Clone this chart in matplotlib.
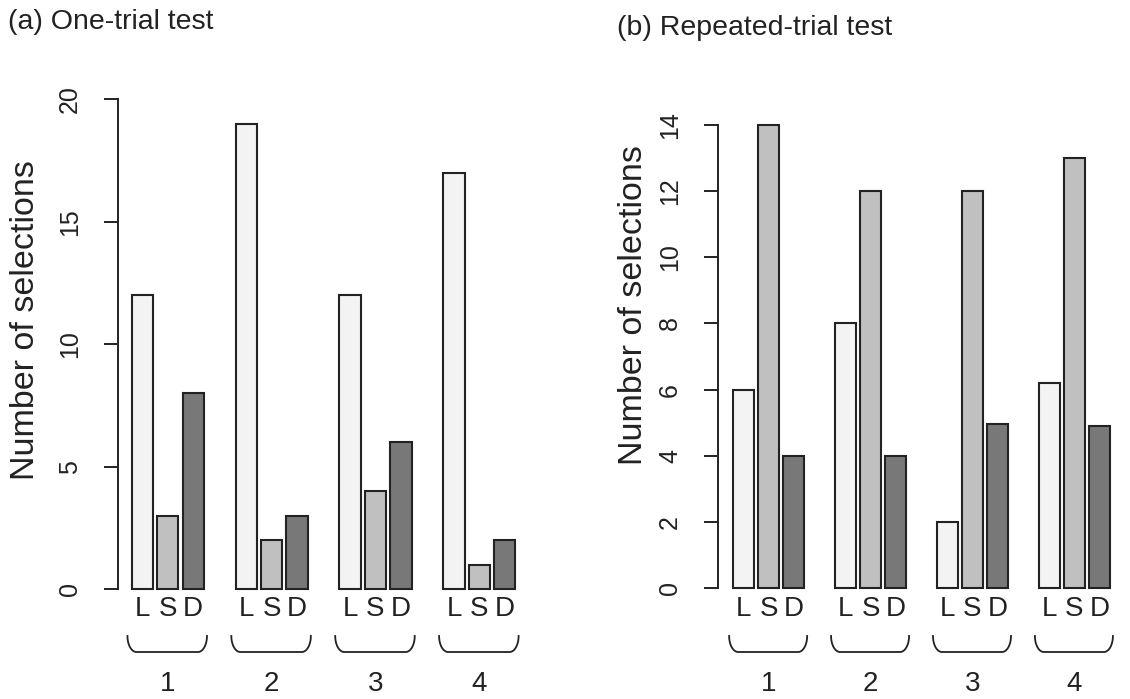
import numpy as np
import matplotlib
matplotlib.use("Agg")
import matplotlib.pyplot as plt
from matplotlib import transforms

plt.rcParams['font.family'] = ['Liberation Sans', 'DejaVu Sans']

# ---- data ----
groups = ["1", "2", "3", "4"]
bar_letters = ["L", "S", "D"]
one_L = [12, 19, 12, 17]
one_S = [3, 2, 4, 1]
one_D = [8, 3, 6, 2]
rep_L = [6, 8, 2, 6.2]
rep_S = [14, 12, 12, 13]
rep_D = [4, 4, 4.95, 4.9]

one_ticks = [0, 5, 10, 15, 20]
rep_ticks = [0, 2, 4, 6, 8, 10, 12, 14]

colors = ["#f3f3f3", "#c0c0c0", "#787878"]
edge = "#222222"

W, H = 1130, 699
fig = plt.figure(figsize=(W / 100, H / 100), dpi=100)


def px_axes(x0, x1, ytop, ybot):
    return fig.add_axes([x0 / W, 1 - ybot / H, (x1 - x0) / W, (ybot - ytop) / H])


bar_w = 1.0
bar_step = 1.2
group_step = 4.9


def panel(ax, series, ymax, ticks, first_bar_off, unit_px, width_px, title, title_xy):
    a = -first_bar_off / unit_px
    ax.set_xlim(a, a + width_px / unit_px)
    ax.set_ylim(0, ymax)
    gidx = np.arange(len(groups))
    for b, vals in enumerate(series):
        x = gidx * group_step + b * bar_step
        ax.bar(x, vals, width=bar_w, align="edge", color=colors[b],
               edgecolor=edge, linewidth=1.5, clip_on=False)
    for s in ["top", "right", "bottom"]:
        ax.spines[s].set_visible(False)
    ax.spines["left"].set_linewidth(1.4)
    ax.spines["left"].set_color(edge)
    ax.set_xticks([])
    ax.set_yticks(ticks)
    ax.set_yticklabels([str(t) for t in ticks], rotation=90, va="center",
                       ha="right", fontsize=18, color="#222222")
    ax.tick_params(axis="y", length=10, width=1.4, color=edge, pad=16)

    trans = transforms.blended_transform_factory(ax.transData, fig.transFigure)
    y_letters = 1 - 609 / H
    y_top = 1 - 636 / H
    y_bot = 1 - 652 / H
    y_num = 1 - 684 / H
    rx = 9 / unit_px
    for g in gidx:
        x0 = g * group_step
        for b, lab in enumerate(bar_letters):
            ax.text(x0 + b * bar_step + bar_w / 2, y_letters, lab, transform=trans,
                    ha="center", va="center", fontsize=20, color="#222222")
        xl = x0 - 0.2
        xr = x0 + 2 * bar_step + bar_w + 0.15
        t = np.linspace(0, np.pi / 2, 20)
        left_x = xl + rx * (1 - np.cos(t))
        left_y = y_top - (y_top - y_bot) * np.sin(t)
        right_x = (xr - rx + rx * np.sin(t))
        right_y = y_bot + (y_top - y_bot) * (1 - np.cos(t))
        xs = np.concatenate([left_x, right_x])
        ys = np.concatenate([left_y, right_y])
        ax.plot(xs, ys, transform=trans, color="#222222", lw=1.3, clip_on=False)
        ax.text(x0 + (2 * bar_step + bar_w) / 2, y_num, groups[g], transform=trans,
                ha="center", va="center", fontsize=20, color="#222222")
    fig.text(title_xy[0] / W, 1 - title_xy[1] / H, title, ha="left", va="center",
             fontsize=20.5, color="#222222")


ax1 = px_axes(118, 540, 99.3, 589.3)
panel(ax1, [one_L, one_S, one_D], 20, one_ticks, 131.7 - 118, 21.2, 422,
      "(a) One-trial test", (8, 22))
fig.text(26 / W, 1 - 320 / H, "Number of selections", rotation=90,
         ha="center", va="center", fontsize=24.5, color="#222222")

ax2 = px_axes(718, 1125, 125, 588)
panel(ax2, [rep_L, rep_S, rep_D], 14, rep_ticks, 733.3 - 718, 20.8, 407,
      "(b) Repeated-trial test", (617, 28))
fig.text(634 / W, 1 - 305 / H, "Number of selections", rotation=90,
         ha="center", va="center", fontsize=24.5, color="#222222")

fig.savefig("out.png", dpi=100)
